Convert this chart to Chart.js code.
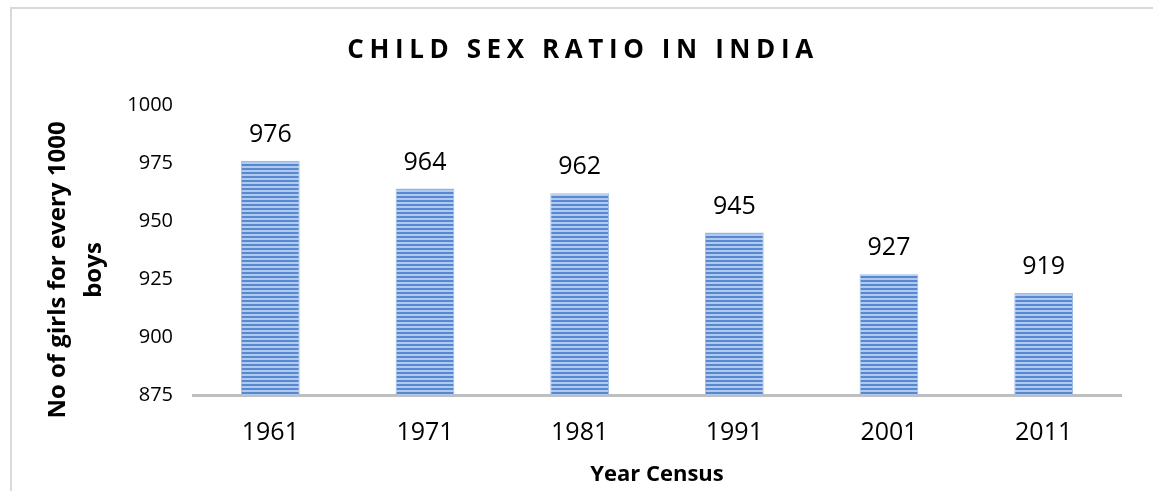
<!DOCTYPE html>
<html>
<head>
<meta charset="utf-8">
<script src="https://cdn.jsdelivr.net/npm/chart.js@4"></script>
<style>
  html, body { margin: 0; padding: 0; background: #fff; }
  #wrap { width: 1153px; height: 491px; position: relative; }
</style>
</head>
<body>
<div id="wrap"><canvas id="chart" width="1153" height="491"></canvas></div>
<script>
const years = ['1961', '1971', '1981', '1991', '2001', '2011'];
const ratio = [976, 964, 962, 945, 927, 919];
const yTicks = [875, 900, 925, 950, 975, 1000];
const titleText = 'CHILD SEX RATIO IN INDIA';
const yTitle = ['No of girls for every 1000', 'boys'];
const xTitle = 'Year Census';

// horizontal stripe fill like the office pattern
const makeStripes = () => {
    const c = document.createElement('canvas');
    c.width = 4; c.height = 4;
    const g = c.getContext('2d');
    g.fillStyle = '#b0c9ee';
    g.fillRect(0, 0, 4, 4);
    g.fillStyle = '#5787cf';
    g.fillRect(0, 0, 4, 2);
    return g.createPattern(c, 'repeat');
};

const frame = {
    id: 'frame',
    beforeDraw(chart) {
        const ctx = chart.ctx;
        ctx.save();
        ctx.strokeStyle = '#d9d9d9';
        ctx.lineWidth = 2;
        ctx.beginPath();
        ctx.moveTo(11, 491);
        ctx.lineTo(11, 8);
        ctx.lineTo(1153, 8);
        ctx.stroke();
        ctx.restore();
    },
};

const spacedTitle = {
    id: 'spacedTitle',
    afterDraw(chart) {
        const ctx = chart.ctx;
        ctx.save();
        ctx.font = 'bold 26px "Open Sans"';
        ctx.letterSpacing = '5.6px';
        ctx.fillStyle = '#000';
        ctx.textAlign = 'center';
        ctx.textBaseline = 'middle';
        ctx.fillText(titleText, 583, 51);
        ctx.restore();
    },
};

// y axis title, placed a bit lower than the scale centre as in the original
const sideTitle = {
    id: 'sideTitle',
    afterDraw(chart) {
        const ctx = chart.ctx;
        ctx.save();
        ctx.font = 'bold 24px "Open Sans"';
        ctx.fillStyle = '#000';
        ctx.textAlign = 'center';
        ctx.textBaseline = 'middle';
        ctx.translate(58, 270);
        ctx.rotate(-Math.PI / 2);
        yTitle.forEach((line, i) => ctx.fillText(line, 0, i * 36));
        ctx.restore();
    },
};

const valueLabels = {
    id: 'valueLabels',
    afterDatasetsDraw(chart) {
        const ctx = chart.ctx;
        const meta = chart.getDatasetMeta(0);
        ctx.save();
        ctx.font = '25px "Open Sans"';
        ctx.fillStyle = '#000';
        ctx.textAlign = 'center';
        ctx.textBaseline = 'alphabetic';
        meta.data.forEach((bar, i) => {
            ctx.fillText(String(ratio[i]), bar.x, bar.y - 19);
        });
        ctx.restore();
    },
};

const ctx = document.getElementById('chart').getContext('2d');
new Chart(ctx, {
    type: 'bar',
    data: {
        labels: years,
        datasets: [{
            data: ratio,
            backgroundColor: makeStripes(),
            borderColor: '#9dbbe6',
            borderWidth: 1,
            borderSkipped: 'bottom',
            categoryPercentage: 1,
            barPercentage: 0.38,
        }],
    },
    options: {
        responsive: false,
        animation: false,
        layout: { padding: { left: 0, right: 32, top: 105, bottom: 0 } },
        plugins: {
            legend: { display: false },
            tooltip: { enabled: false },
            title: { display: false },
        },
        scales: {
            x: {
                z: 1,
                grid: { display: false, drawTicks: false },
                border: { display: true, color: '#bfbfbf', width: 3 },
                ticks: { color: '#000', font: { family: 'Open Sans', size: 25 }, padding: 23 },
                title: {
                    display: true,
                    text: xTitle,
                    color: '#000',
                    font: { family: 'Open Sans', size: 22, weight: 'bold' },
                    padding: { top: 0, bottom: 3 },
                },
                afterFit: (s) => { s.height = 96; },
            },
            y: {
                min: 875,
                max: 1000,
                afterBuildTicks: (s) => { s.ticks = yTicks.map(v => ({ value: v })); },
                grid: { display: false, drawTicks: false },
                border: { display: false },
                ticks: {
                    color: '#000',
                    font: { family: 'Open Sans', size: 20 },
                    padding: 20,
                    callback: (v) => String(v),
                },
                title: { display: false },
                afterFit: (s) => { s.width = 193; },
            },
        },
    },
    plugins: [frame, spacedTitle, sideTitle, valueLabels],
});
</script>
</body>
</html>
